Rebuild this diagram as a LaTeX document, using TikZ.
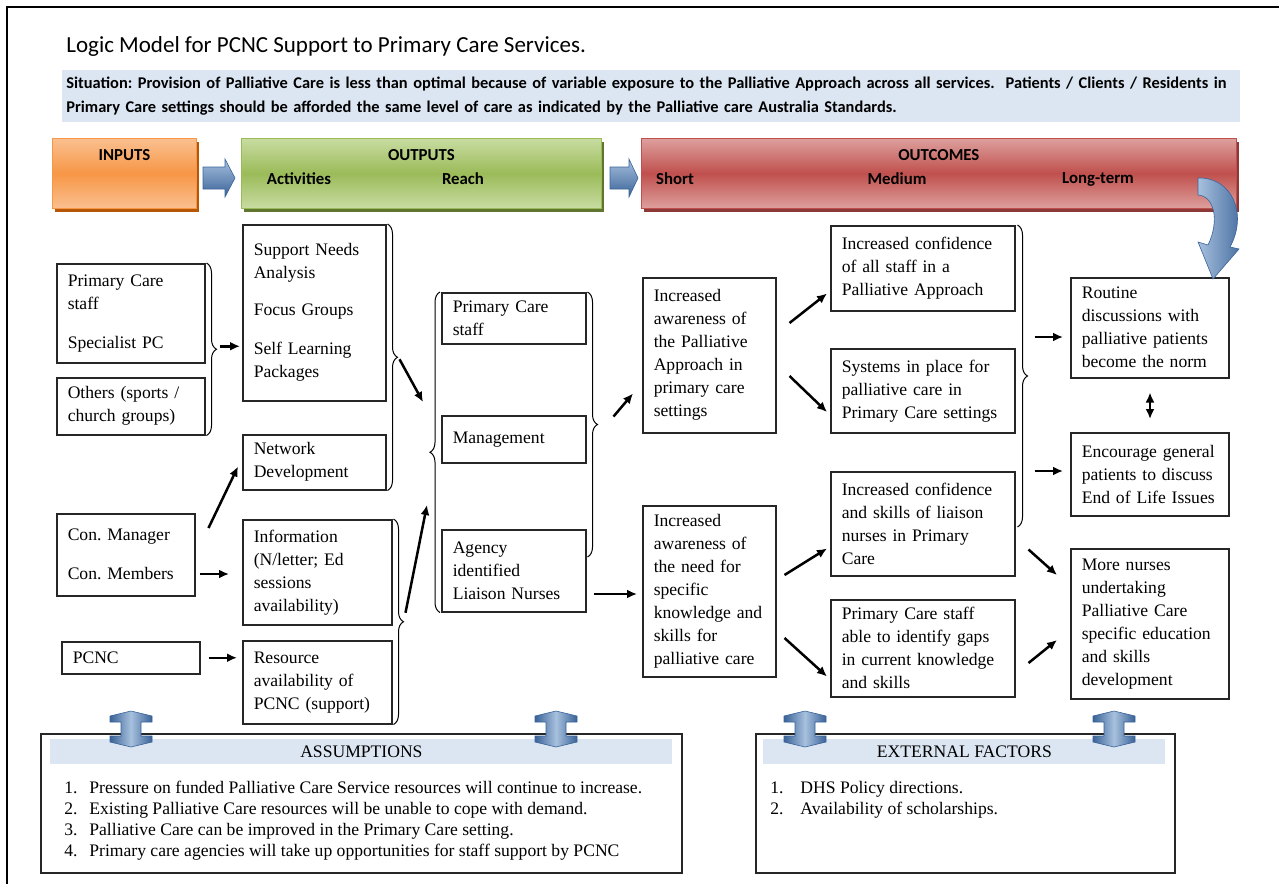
\documentclass[tikz,border=0pt]{standalone}
\usepackage{fontspec}
\setmainfont{Liberation Serif}
\newfontfamily\calib{Carlito}
\usetikzlibrary{positioning,arrows.meta,decorations.pathreplacing,calc,shadows}
\definecolor{SitBand}{HTML}{DCE6F2}
\definecolor{OrangeMid}{HTML}{F79646}
\definecolor{OrangeLt}{HTML}{FAC090}
\definecolor{OrangeDk}{HTML}{B65708}
\definecolor{GreenMid}{HTML}{9BBB59}
\definecolor{GreenLt}{HTML}{C8DCA2}
\definecolor{GreenDk}{HTML}{5F7530}
\definecolor{RedMid}{HTML}{C0504D}
\definecolor{RedLt}{HTML}{DDA09E}
\definecolor{RedDk}{HTML}{8C3836}
\definecolor{ArrowLt}{HTML}{A7C0DE}
\definecolor{ArrowDk}{HTML}{3A6398}
\definecolor{BoxLine}{HTML}{262626}
\newcommand{\boxfont}{\fontsize{8.8}{11.5}\selectfont}
\newcommand{\listfont}{\fontsize{8.8}{10.4}\selectfont}
\frenchspacing

\begin{document}
\begin{tikzpicture}[x=0.5pt, y=-0.5pt,
    cell/.style 2 args={draw=BoxLine, line width=0.75pt, fill=white, anchor=north west,
                        align=left, inner xsep=5pt, inner ysep=2pt, font=\boxfont,
                        minimum width=#1*0.5pt, minimum height=#2*0.5pt,
                        text width=#1*0.5pt-11pt},
    banner/.style n args={3}{anchor=north west, minimum height=35pt, draw=#2,
                        top color=#1, bottom color=#1, middle color=#2,
                        general shadow={fill=#3, shadow xshift=1.5pt, shadow yshift=-2pt}},
    bantext/.style={font=\calib\bfseries\fontsize{8.4}{10}\selectfont, inner sep=0pt},
    flow/.style={-{Latex[length=5pt,width=4.5pt]}, line width=1.25pt},
    curly/.style={decorate, decoration={brace, amplitude=5pt}, line width=0.5pt},
    hdr/.style={anchor=north west, fill=SitBand, minimum height=12.5pt, inner sep=0pt, font=\listfont},
    panel/.style={draw=BoxLine, line width=0.75pt, fill=white, anchor=north west, minimum height=69.5pt},
    chevron/.style={top color=ArrowLt, bottom color=ArrowDk, draw=ArrowDk, line width=0.3pt},
    ibeam/.style={left color=ArrowDk, right color=ArrowDk, middle color=ArrowLt, draw=ArrowDk, line width=0.3pt}
  ]
  \useasboundingbox (0,0) rectangle (1279,884);
  \draw[line width=0.8pt] (7,884) -- (7,7) -- (1279,7);

  % title and situation
  \node[anchor=west, inner sep=0pt, font=\calib\fontsize{11.5}{13}\selectfont] (title) at (66,46)
    {Logic Model for PCNC Support to Primary Care Services.};
  \node[anchor=north west, fill=SitBand, minimum width=587.5pt, minimum height=25pt,
        text width=585pt, inner xsep=2pt, align=left,
        font=\calib\bfseries\fontsize{8.2}{12}\selectfont] (situation) at (62,70)
    {Situation: Provision of Palliative Care is less than optimal because of variable exposure to the Palliative Approach across all services.\ \ Patients / Clients / Residents in\\
     Primary Care settings should be afforded the same level of care as indicated by the Palliative care Australia Standards.};

  % banners
  \node[banner={OrangeLt}{OrangeMid}{OrangeDk}, minimum width=72pt] (inputs) at (52,138) {};
  \node[banner={GreenLt}{GreenMid}{GreenDk}, minimum width=180pt] (outputs) at (241,138) {};
  \node[banner={RedLt}{RedMid}{RedDk}, minimum width=297.5pt] (outcomes) at (641,138) {};
  \node[bantext] at ([shift={(0,17)}]inputs.north) {INPUTS};
  \node[bantext] at ([shift={(0,17)}]outputs.north) {OUTPUTS};
  \node[bantext] at ([shift={(58,41)}]outputs.north west) {Activities};
  \node[bantext] at ([shift={(222,41)}]outputs.north west) {Reach};
  \node[bantext] at ([shift={(0,17)}]outcomes.north) {OUTCOMES};
  \node[bantext] at ([shift={(34,41)}]outcomes.north west) {Short};
  \node[bantext] at ([shift={(256,41)}]outcomes.north west) {Medium};
  \node[bantext] at ([shift={(457,41)}]outcomes.north west) {Long-term};
  \shade[chevron] (203,167) -- (225,167) -- (225,159) -- (235,178) -- (225,197) -- (225,189) -- (203,189) -- cycle;
  \shade[chevron] (610,167) -- (629,167) -- (629,159) -- (638,178) -- (629,197) -- (629,189) -- (610,189) -- cycle;

  % inputs
  \node[cell={148}{99}] (inPC) at (56,263) {Primary Care\\staff\\[8pt]Specialist PC};
  \node[cell={148}{57}] (inOth) at (56,377) {Others (sports /\\church groups)};
  \node[cell={138}{82}] (inCon) at (56,513) {Con. Manager\\[8pt]Con. Members};
  \node[cell={138}{32}] (inPCNC) at (61,641) {PCNC};

  % activities
  \node[cell={143}{176}] (actSNA) at (242,224) {Support Needs\\Analysis\\[7pt]Focus Groups\\[8pt]Self Learning\\Packages\\[6pt]};
  \node[cell={143}{55}] (actNet) at (242,434) {Network\\Development};
  \node[cell={149}{105}] (actInfo) at (242,519) {Information\\(N/letter; Ed\\sessions\\availability)};
  \node[cell={149}{83}] (actRes) at (242,640) {Resource\\availability of\\PCNC (support)};

  % reach
  \node[cell={144}{51}] (reachPC) at (441,292) {Primary Care\\staff};
  \node[cell={144}{47}] (reachMgmt) at (441,415) {Management\\[2pt]};
  \node[cell={144}{82}] (reachLN) at (441,529) {Agency\\identified\\Liaison Nurses};

  % outcomes
  \node[cell={133}{155}] (shortPA) at (642,277) {Increased\\awareness of\\the Palliative\\Approach in\\primary care\\settings};
  \node[cell={133}{171}] (shortSK) at (642,505) {Increased\\awareness of\\the need for\\specific\\knowledge and\\skills for\\palliative care};
  \node[cell={184}{85}] (medConf) at (830,225) {Increased confidence\\of all staff in a\\Palliative Approach};
  \node[cell={184}{84}] (medSys) at (830,348) {Systems in place for\\palliative care in\\Primary Care settings};
  \node[cell={184}{104}] (medLN) at (830,471) {Increased confidence\\and skills of liaison\\nurses in Primary\\Care};
  \node[cell={184}{97}] (medGaps) at (830,599) {Primary Care staff\\able to identify gaps\\in current knowledge\\and skills};
  \node[cell={158}{100}] (longRout) at (1070,277) {Routine\\discussions with\\palliative patients\\become the norm};
  \node[cell={158}{83}] (longEnc) at (1070,432) {Encourage general\\patients to discuss\\End of Life Issues};
  \node[cell={158}{150}] (longMore) at (1070,548) {More nurses\\undertaking\\Palliative Care\\specific education\\and skills\\development};

  % braces
  \draw[curly] ([shift={(1,0)}]inPC.north east) -- ([shift={(1,0)}]inOth.south east);
  \draw[curly] ([shift={(1,0)}]actSNA.north east) -- ([shift={(1,0)}]actNet.south east);
  \draw[curly] ([shift={(1,0)}]actInfo.north east) -- ([shift={(1,0)}]actRes.south east);
  \draw[curly] ([shift={(-1,0)}]reachLN.south west) -- ([shift={(-1,0)}]reachPC.north west);
  \draw[curly] ([shift={(1,0)}]reachPC.north east) -- ([shift={(1,28)}]reachLN.north east);
  \draw[curly] ([shift={(2,0)}]medConf.north east) -- ([shift={(2,56)}]medLN.north east);
  \coordinate (inTip) at ($(inPC.north east)!0.5!(inOth.south east)+(11,-3)$);
  \coordinate (actTip) at ($(actSNA.north east)!0.5!(actNet.south east)+(11,0)$);
  \coordinate (resTip) at ($(actInfo.north east)!0.5!(actRes.south east)+(11,0)$);
  \coordinate (reachTip) at ($(reachPC.north east)!0.5!([shift={(0,28)}]reachLN.north east)+(11,0)$);
  \coordinate (medTip) at ($(medConf.north east)!0.5!([shift={(0,56)}]medLN.north east)+(12,0)$);

  % connectors
  \draw[flow] ([shift={(3,0)}]inTip) -- ([shift={(-2,0)}]actSNA.west |- inTip);
  \draw[flow] ([shift={(13,15)}]inCon.north east) -- ([shift={(-4,-24)}]actNet.south west);
  \draw[flow] ([shift={(4,61)}]inCon.north east) -- ([shift={(-13,55)}]actInfo.north west);
  \draw[flow] ([shift={(8,0)}]inPCNC.east) -- ([shift={(-5,0)}]actRes.west |- inPCNC.east);
  \draw[flow] ([shift={(2,2)}]actTip) -- ([shift={(-18,-13)}]reachMgmt.north west);
  \draw[flow] ([shift={(2,-9)}]resTip) -- ([shift={(-14,-24)}]reachLN.north west);
  \draw[flow] ([shift={(16,-8)}]reachTip) -- ([shift={(-9,-40)}]shortPA.south west);
  \draw[flow] ([shift={(7,65)}]reachLN.north east) -- ([shift={(-5,89)}]shortSK.north west);
  \draw[flow] ([shift={(13,46)}]shortPA.north east) -- ([shift={(-3,-18)}]medConf.south west);
  \draw[flow] ([shift={(13,99)}]shortPA.north east) -- ([shift={(-3,64)}]medSys.north west);
  \draw[flow] ([shift={(8,70)}]shortSK.north east) -- ([shift={(-3,-28)}]medLN.south west);
  \draw[flow] ([shift={(8,133)}]shortSK.north east) -- ([shift={(-3,-21)}]medGaps.south west);
  \draw[flow] ([shift={(7,-39)}]medTip) -- ([shift={(-7,60)}]longRout.north west);
  \draw[flow] ([shift={(7,95)}]medTip) -- ([shift={(-7,39)}]longEnc.north west);
  \draw[flow] ([shift={(13,-27)}]medLN.south east) -- ([shift={(-13,27)}]longMore.north west);
  \draw[flow] ([shift={(13,64)}]medGaps.north east) -- ([shift={(-13,92)}]longMore.north west);
  \draw[flow, {Latex[length=5pt,width=4.5pt]}-{Latex[length=5pt,width=4.5pt]}]
    ([shift={(80,14)}]longRout.south west) -- ([shift={(80,-13)}]longEnc.north west);

  % curved arrow down to the long-term column
  \shade[left color=ArrowLt, right color=ArrowDk, draw=ArrowDk, line width=0.3pt]
    (1198,178) .. controls (1232,177) and (1248,214) .. (1230,247) -- (1239,249) -- (1213,279)
    -- (1198,242) -- (1208,245) .. controls (1220,220) and (1214,196) .. (1198,195) -- cycle;

  % assumptions and external factors
  \node[panel, minimum width=320.5pt] (asmBox) at (40,733) {};
  \node[hdr, minimum width=311pt] (asmHead) at (50,739) {ASSUMPTIONS};
  \node[anchor=north west, inner sep=0pt, align=left, font=\listfont] (asmList) at (64,781)
    {\makebox[12.5pt][l]{1.}Pressure on funded Palliative Care Service resources will continue to increase.\\
     \makebox[12.5pt][l]{2.}Existing Palliative Care resources will be unable to cope with demand.\\
     \makebox[12.5pt][l]{3.}Palliative Care can be improved in the Primary Care setting.\\
     \makebox[12.5pt][l]{4.}Primary care agencies will take up opportunities for staff support by PCNC};
  \node[panel, minimum width=209.5pt] (extBox) at (755,733) {};
  \node[hdr, minimum width=201pt] (extHead) at (763,739) {EXTERNAL FACTORS};
  \node[anchor=north west, inner sep=0pt, align=left, font=\listfont] (extList) at (770,781)
    {\makebox[15pt][l]{1.}DHS Policy directions.\\
     \makebox[15pt][l]{2.}Availability of scholarships.};

  % up-down block arrows
  \foreach \cx in {131,556,805,1114}
    \shade[ibeam] (\cx,711) -- (\cx+21,716) -- (\cx+21,722) -- (\cx+10,722) -- (\cx+10,736)
      -- (\cx+21,736) -- (\cx+21,742) -- (\cx,747) -- (\cx-21,742) -- (\cx-21,736)
      -- (\cx-10,736) -- (\cx-10,722) -- (\cx-21,722) -- (\cx-21,716) -- cycle;
\end{tikzpicture}
\end{document}
